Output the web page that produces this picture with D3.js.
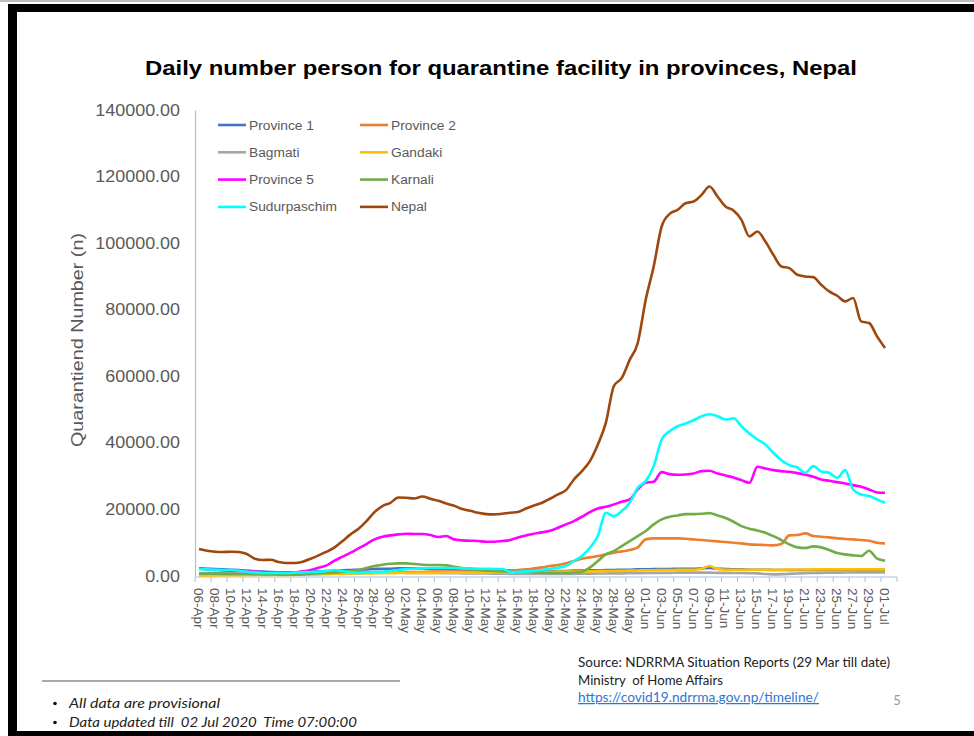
<!DOCTYPE html>
<html>
<head>
<meta charset="utf-8">
<script src="https://cdn.jsdelivr.net/npm/d3@7"></script>
<style>
  html, body { margin: 0; padding: 0; background: #fff; }
  svg { display: block; }
</style>
</head>
<body>
<svg id="chart" width="974" height="736"></svg>
<script>
// ---------- DATA ----------
const dates = [
  "06-Apr","07-Apr","08-Apr","09-Apr","10-Apr","11-Apr","12-Apr","13-Apr","14-Apr","15-Apr",
  "16-Apr","17-Apr","18-Apr","19-Apr","20-Apr","21-Apr","22-Apr","23-Apr","24-Apr","25-Apr",
  "26-Apr","27-Apr","28-Apr","29-Apr","30-Apr","01-May","02-May","03-May","04-May","05-May",
  "06-May","07-May","08-May","09-May","10-May","11-May","12-May","13-May","14-May","15-May",
  "16-May","17-May","18-May","19-May","20-May","21-May","22-May","23-May","24-May","25-May",
  "26-May","27-May","28-May","29-May","30-May","31-May","01-Jun","02-Jun","03-Jun","04-Jun",
  "05-Jun","06-Jun","07-Jun","08-Jun","09-Jun","10-Jun","11-Jun","12-Jun","13-Jun","14-Jun",
  "15-Jun","16-Jun","17-Jun","18-Jun","19-Jun","20-Jun","21-Jun","22-Jun","23-Jun","24-Jun",
  "25-Jun","26-Jun","27-Jun","28-Jun","29-Jun","30-Jun","01-Jul","02-Jul"
];

const yTicks = [0, 20000, 40000, 60000, 80000, 100000, 120000, 140000];

const province1 = [2300,2200,2100,2000,1900,1800,1600,1400,1300,1200,
  1100,1100,1100,1200,1300,1400,1500,1600,1700,1800,
  1900,2000,2100,2200,2200,2300,2300,2300,2200,2200,
  2100,2100,2000,2000,1900,1900,1800,1800,1700,1700,
  1600,1600,1600,1500,1500,1500,1500,1600,1600,1700,
  1700,1800,1800,1900,1900,2000,2000,2100,2100,2100,
  2200,2200,2200,2300,2400,2200,2100,2000,2000,1900,
  1900,1900,1800,1800,1800,1800,1800,1800,1800,1800,
  1800,1800,1800,1800,1800,1800,1800];

const province2 = [600,600,550,500,500,450,400,400,400,400,
  400,450,500,550,600,700,800,900,1000,1000,
  1100,1100,1200,1200,1200,1200,1200,1200,1200,1300,
  1300,1300,1300,1300,1300,1300,1400,1400,1500,1600,
  1800,2000,2300,2600,3000,3300,3800,4500,5200,5600,
  6000,6500,7000,7400,7800,8600,11000,11300,11300,11300,
  11300,11200,11000,10800,10600,10400,10200,10000,9800,9500,
  9400,9300,9200,9600,12200,12300,12800,12000,11800,11600,
  11300,11100,11000,10800,10600,10000,9800];

const bagmati = [900,900,850,800,800,750,700,650,600,550,
  500,500,500,550,600,650,700,750,800,850,
  900,950,1000,1000,1000,1000,950,950,900,900,
  900,850,850,800,800,750,750,700,700,650,
  650,650,600,600,600,600,650,650,700,700,
  750,750,800,800,850,850,900,900,950,950,
  1000,1000,1000,1000,1000,950,950,900,900,850,
  800,600,500,550,650,750,850,900,950,1000,
  1000,1050,1050,1100,1100,1100,1100];

const gandaki = [200,200,200,250,250,250,300,300,300,300,
  300,350,350,400,450,500,550,600,650,700,
  750,800,800,850,850,900,900,900,950,950,
  950,1000,1000,1000,1000,1000,1000,1050,1050,1100,
  1100,1150,1200,1200,1250,1300,1300,1350,1400,1400,
  1450,1500,1500,1550,1600,1650,1700,1750,1800,1800,
  1850,1850,1900,2200,3000,2100,1900,1900,1900,1900,
  1900,1900,1900,1900,1950,1950,1950,2000,2000,2000,
  2000,2000,2000,2000,2000,2000,2000];

const province5 = [2200,2000,1800,1700,1600,1500,1500,1300,1100,1000,
  900,900,1000,1400,1800,2500,3200,4600,5800,7000,
  8300,9600,11000,11800,12200,12500,12700,12600,12600,12300,
  11700,12000,11000,10700,10600,10500,10300,10300,10500,10800,
  11600,12200,12700,13100,13600,14500,15500,16500,17800,19200,
  20300,20800,21500,22300,23000,26000,28000,28300,31200,30600,
  30400,30500,30800,31500,31600,30800,30200,29600,28800,28000,
  32800,32300,31800,31500,31300,30900,30400,29800,29000,28600,
  28200,27800,27300,26800,26000,25100,25000];

const karnali = [700,700,700,650,650,600,600,550,500,450,
  400,400,400,500,700,800,900,1000,1200,1500,
  1800,2400,3000,3400,3700,3800,3800,3600,3400,3300,
  3300,3200,2800,2400,2000,1800,1600,1500,1400,1300,
  1200,1200,1100,1000,900,900,900,1000,1300,2500,
  4500,6500,7500,9000,10500,12000,13500,15500,17000,17800,
  18200,18600,18600,18700,18900,18200,17400,16300,15000,14200,
  13700,13000,12000,10800,9500,8600,8400,8900,8600,7800,
  6900,6500,6200,6000,7600,5200,4600];

const sudurpaschim = [2100,2000,1900,1800,1800,1600,1300,1100,900,900,
  900,900,1000,1100,1200,1300,1500,1800,1500,1100,
  900,1000,1200,1300,1500,1800,2100,2200,2300,2400,
  2400,2400,2400,2300,2300,2200,2200,2100,2100,1300,
  1200,1400,1500,1800,2200,2500,3000,4500,6000,8500,
  12000,19000,18000,19500,22000,26500,28500,33000,41000,43500,
  45000,45800,46800,48000,48600,48000,47000,47400,45000,42800,
  41000,39500,37000,34800,33300,32600,31000,33000,31400,31000,
  29500,31800,26000,24500,24000,23000,22000];

const nepal = [8100,7600,7300,7200,7300,7200,6600,5200,4800,4900,
  4200,3900,3900,4300,5200,6200,7300,8600,10500,12500,
  14200,16500,19200,21000,22000,23600,23500,23300,23900,23200,
  22600,21800,21100,20100,19600,19000,18600,18500,18700,19000,
  19200,20300,21200,22000,23200,24500,25800,29000,31500,34500,
  39500,46000,57000,59500,65000,70000,83000,93000,105000,108800,
  110000,112000,112500,114500,117000,114000,111000,109800,107000,102000,
  103500,100500,96500,93000,92500,90500,90000,89800,87500,85500,
  84200,82500,83500,76500,76000,72000,68500];

const seriesNames = ["Province 1","Province 2","Bagmati","Gandaki","Province 5","Karnali","Sudurpaschim","Nepal"];
const seriesColors = ["#4472C4","#ED7D31","#A5A5A5","#FFC000","#FF00FF","#70AD47","#00FFFF","#9E480E"];
const seriesValues = [province1, province2, bagmati, gandaki, province5, karnali, sudurpaschim, nepal];

// ---------- DRAW ----------
const svg = d3.select("#chart");
const grey = "#595959";
const axisBlue = "#A9BEE4";
const stretch = 1.1; // source picture is slightly wider than natural glyphs

// widen a text element horizontally by a factor, keeping it real text
function widen(sel, f) {
  sel.each(function () {
    const w = this.getComputedTextLength();
    d3.select(this).attr("textLength", w * f).attr("lengthAdjust", "spacingAndGlyphs");
  });
}

// frame (slide border)
svg.append("rect").attr("x", 0).attr("y", 0).attr("width", 974).attr("height", 736).attr("fill", "#fff");
svg.append("rect").attr("x", 0).attr("y", 0).attr("width", 974).attr("height", 2).attr("fill", "#bdbdbd");
svg.append("rect").attr("x", 8).attr("y", 4).attr("width", 966).attr("height", 8).attr("fill", "#000");
svg.append("rect").attr("x", 8).attr("y", 4).attr("width", 9).attr("height", 732).attr("fill", "#000");
svg.append("rect").attr("x", 8).attr("y", 731).attr("width", 966).attr("height", 5).attr("fill", "#000");

// title
svg.append("text")
  .attr("x", 501).attr("y", 75)
  .attr("text-anchor", "middle")
  .attr("font-family", "Liberation Sans, Arial, sans-serif")
  .attr("font-weight", "bold").attr("font-size", 20)
  .attr("fill", "#000")
  .attr("textLength", 712).attr("lengthAdjust", "spacingAndGlyphs")
  .text("Daily number person for quarantine facility in provinces, Nepal");

const x = d3.scaleBand().domain(dates).range([195, 897]).paddingInner(0).paddingOuter(0);
const y = d3.scaleLinear().domain([0, 140000]).range([576, 110]);
const cx = d => x(d) + x.bandwidth() / 2;

// y axis
const yAxis = svg.append("g").attr("transform", "translate(195,0)")
  .call(d3.axisLeft(y).tickValues(yTicks).tickFormat(d3.format(".2f")).tickSize(0).tickPadding(15));
yAxis.select(".domain").attr("stroke", axisBlue).attr("stroke-width", 1.2);
yAxis.selectAll("text")
  .attr("font-family", "Liberation Sans, Arial, sans-serif")
  .attr("font-size", 16).attr("fill", grey);
widen(yAxis.selectAll("text"), 1.12);

// y axis title
svg.append("text")
  .attr("transform", "translate(83,340) rotate(-90)")
  .attr("text-anchor", "middle")
  .attr("font-family", "Liberation Sans, Arial, sans-serif")
  .attr("font-size", 17).attr("fill", grey)
  .attr("textLength", 214).attr("lengthAdjust", "spacingAndGlyphs")
  .text("Quarantiend Number (n)");

// x axis
const xg = svg.append("g");
xg.append("line")
  .attr("x1", x.range()[0]).attr("x2", x.range()[1])
  .attr("y1", y(0) + 1).attr("y2", y(0) + 1)
  .attr("stroke", axisBlue).attr("stroke-width", 1.2);
const tickDates = dates.filter((d, i) => i % 2 === 0);
xg.selectAll("line.tick").data(tickDates.concat([null])).join("line")
  .attr("class", "tick")
  .attr("x1", d => d === null ? x.range()[1] : x(d))
  .attr("x2", d => d === null ? x.range()[1] : x(d))
  .attr("y1", y(0) + 1).attr("y2", y(0) + 6)
  .attr("stroke", axisBlue).attr("stroke-width", 1);
xg.selectAll("text").data(dates.filter((d, i) => i % 2 === 0 && i < dates.length - 1)).join("text")
  .attr("transform", d => `translate(${cx(d) - 5},588) rotate(90)`)
  .attr("font-family", "Liberation Sans, Arial, sans-serif")
  .attr("font-size", 13.5).attr("fill", grey)
  .text(d => d);

// lines
const line = d3.line()
  .defined(d => d.v != null)
  .x(d => cx(d.date))
  .y(d => y(d.v))
  .curve(d3.curveMonotoneX);

seriesValues.forEach((vals, si) => {
  const pts = vals.map((v, i) => ({ date: dates[i], v }));
  svg.append("path")
    .datum(pts)
    .attr("fill", "none")
    .attr("stroke", seriesColors[si])
    .attr("stroke-width", 2.6)
    .attr("stroke-linejoin", "round")
    .attr("d", line);
});

// legend
const legend = svg.append("g");
seriesNames.forEach((name, i) => {
  const col = i % 2, row = Math.floor(i / 2);
  const lx = col === 0 ? 218 : 360;
  const ly = 125 + row * 27.3;
  legend.append("line")
    .attr("x1", lx).attr("x2", lx + 28)
    .attr("y1", ly).attr("y2", ly)
    .attr("stroke", seriesColors[i]).attr("stroke-width", 2.6);
  const t = legend.append("text")
    .attr("x", lx + 31).attr("y", ly + 4.5)
    .attr("font-family", "Liberation Sans, Arial, sans-serif")
    .attr("font-size", 12.5).attr("fill", grey)
    .text(name);
  widen(t, stretch);
});

// footnotes
svg.append("line").attr("x1", 42).attr("x2", 400).attr("y1", 681).attr("y2", 681)
  .attr("stroke", "#8c8c8c").attr("stroke-width", 1.5);
const notes = ["All data are provisional", "Data updated till  02 Jul 2020  Time 07:00:00"];
const noteLens = [151, 288];
notes.forEach((t, i) => {
  const by = 708 + i * 19;
  svg.append("circle").attr("cx", 55).attr("cy", by - 4.5).attr("r", 1.8).attr("fill", "#111");
  svg.append("text")
    .attr("x", 69).attr("y", by)
    .attr("font-family", "Lato, Open Sans, sans-serif")
    .attr("font-style", "italic").attr("font-size", 14).attr("fill", "#222")
    .attr("xml:space", "preserve")
    .attr("textLength", noteLens[i]).attr("lengthAdjust", "spacingAndGlyphs")
    .text(t);
});

const src = [
  { t: "Source: NDRRMA Situation Reports (29 Mar till date)", y: 667, w: 312, c: "#222", u: false },
  { t: "Ministry  of Home Affairs", y: 685, w: 145, c: "#222", u: false },
  { t: "https://covid19.ndrrma.gov.np/timeline/", y: 702, w: 241, c: "#2E75D6", u: true }
];
src.forEach(s => {
  svg.append("text")
    .attr("x", 578).attr("y", s.y)
    .attr("font-family", "Lato, Open Sans, sans-serif")
    .attr("font-size", 12.5).attr("fill", s.c)
    .attr("xml:space", "preserve")
    .attr("text-decoration", s.u ? "underline" : null)
    .attr("textLength", s.w).attr("lengthAdjust", "spacingAndGlyphs")
    .text(s.t);
});
svg.append("text").attr("x", 897).attr("y", 705).attr("text-anchor", "middle")
  .attr("font-family", "Lato, Open Sans, sans-serif")
  .attr("font-size", 13).attr("fill", "#9a9a9a").text("5");
</script>
</body>
</html>
